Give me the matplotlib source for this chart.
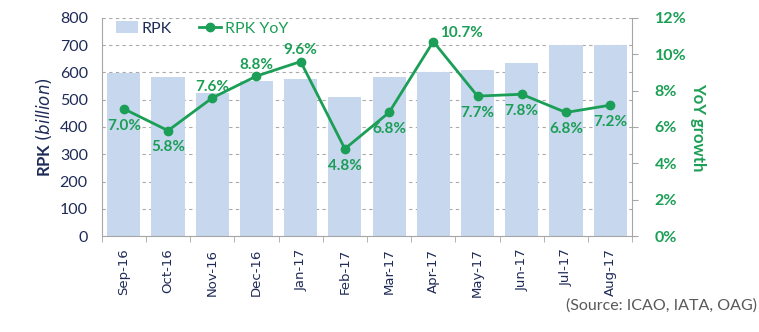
import numpy as np
from matplotlib import pyplot as plt
from matplotlib.ticker import FuncFormatter

months = ['Sep-16', 'Oct-16', 'Nov-16', 'Dec-16', 'Jan-17', 'Feb-17',
          'Mar-17', 'Apr-17', 'May-17', 'Jun-17', 'Jul-17', 'Aug-17']
rpk = [597, 585, 526, 569, 576, 511, 582, 602, 609, 635, 701, 701]
yoy = [7.0, 5.8, 7.6, 8.8, 9.6, 4.8, 6.8, 10.7, 7.7, 7.8, 6.8, 7.2]
# where the value label sits relative to the marker
label_pos = ['below', 'below', 'above', 'above', 'above', 'below',
             'below', 'right', 'below', 'below', 'below', 'below']

bar_col = '#C6D7EE'
green = '#1B9E55'
navy = '#1F2B57'
grey_ax = '#A6A6A6'

plt.rcParams['font.family'] = ['Lato', 'DejaVu Sans']

fig = plt.figure(figsize=(7.59, 3.32), dpi=100)
ax = fig.add_axes([0.134, 0.289, 0.699, 0.657])
x = np.arange(len(months))

ax.bar(x, rpk, width=0.75, color=bar_col, label='RPK', zorder=2)
ax.set_xlim(-0.5, len(months) - 0.5)
ax.set_ylim(0, 800)
ax.set_yticks(np.arange(0, 801, 100))
ax.yaxis.grid(True, linestyle=(0, (3, 3)), color='#AAAAAA', linewidth=0.8)
ax.set_axisbelow(True)
ax.tick_params(axis='y', colors=navy, labelsize=11.5, length=0, pad=10)
ax.set_ylabel('RPK $\\it{(billion)}$', color=navy, fontsize=12,
              fontweight='bold', labelpad=4)

ax.set_xticks(x)
ax.set_xticklabels(months, rotation=90, fontsize=9.5, color=navy,
                   family='DejaVu Sans')
ax.set_xticks(np.arange(-0.5, len(months)), minor=True)
ax.tick_params(axis='x', which='major', length=0, pad=9)
ax.tick_params(axis='x', which='minor', length=4, color=grey_ax)
for s in ['left', 'bottom']:
    ax.spines[s].set_color(grey_ax)
ax.spines['top'].set_visible(False)
ax.spines['right'].set_visible(False)

ax2 = ax.twinx()
ax2.plot(x, yoy, color=green, linewidth=2, marker='o', markersize=6,
         label='RPK YoY', zorder=3)
ax2.set_ylim(0, 12)
ax2.set_yticks(np.arange(0, 13, 2))
ax2.yaxis.set_major_formatter(FuncFormatter(lambda v, p: '%d%%' % v))
ax2.tick_params(axis='y', colors=green, labelsize=11.5, length=4, pad=12)
ax2.tick_params(axis='y', color=grey_ax)
for lbl in ax2.get_yticklabels():
    lbl.set_fontweight('bold')
ax2.spines['right'].set_color(grey_ax)
for s in ['left', 'top', 'bottom']:
    ax2.spines[s].set_visible(False)
ax2.set_ylabel('YoY growth', color=green, fontsize=12, fontweight='bold',
               rotation=-90, labelpad=14)

for xi, v, pos in zip(x, yoy, label_pos):
    if pos == 'below':
        ax2.annotate('%.1f%%' % v, (xi, v), xytext=(0, -7),
                     textcoords='offset points', ha='center', va='top',
                     color=green, fontsize=11, fontweight='bold')
    elif pos == 'above':
        ax2.annotate('%.1f%%' % v, (xi, v), xytext=(0, 3),
                     textcoords='offset points', ha='center', va='bottom',
                     color=green, fontsize=11, fontweight='bold')
    else:
        ax2.annotate('%.1f%%' % v, (xi, v), xytext=(5, 1),
                     textcoords='offset points', ha='left', va='bottom',
                     color=green, fontsize=11, fontweight='bold')

h1, l1 = ax.get_legend_handles_labels()
h2, l2 = ax2.get_legend_handles_labels()
leg = ax2.legend(h1 + h2, l1 + l2, loc='upper left', ncol=2, frameon=False,
                 fontsize=11.5, bbox_to_anchor=(0.0, 1.05), handlelength=1.4,
                 columnspacing=1.7, handletextpad=0.2)
leg.get_texts()[0].set_color(navy)
leg.get_texts()[1].set_color(green)

fig.text(0.997, 0.08, '(Source: ICAO, IATA, OAG)', ha='right', va='center',
         fontsize=11.5, color='#595959')

fig.savefig('out.png', dpi=100)
